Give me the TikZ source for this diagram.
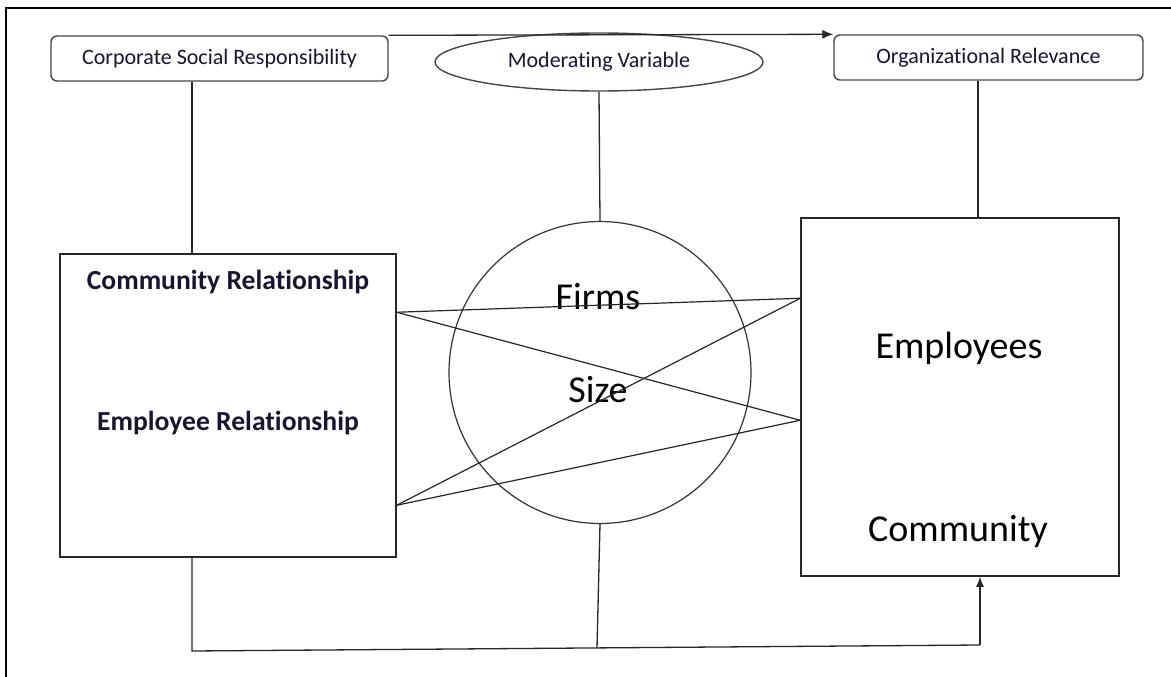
\documentclass[tikz,border=0pt]{standalone}
\usepackage{fontspec}
\setmainfont{Carlito}[RawFeature={-liga}]
\usetikzlibrary{shapes.geometric,arrows.meta,calc}
\definecolor{inkc}{RGB}{22,22,48}
\definecolor{edgec}{RGB}{70,70,70}
\begin{document}
\begin{tikzpicture}[x=1pt,y=-1pt,
  tag/.style={draw=edgec,line width=1.4pt,rounded corners=6pt,minimum height=45pt,
    inner sep=0pt,font=\fontsize{22}{24}\selectfont,text=inkc},
  oval/.style={ellipse,draw=edgec,line width=1.4pt,minimum width=328pt,minimum height=58pt,
    inner sep=0pt,font=\fontsize{22}{24}\selectfont,text=inkc},
  panel/.style={draw=black!85,line width=1.5pt,inner sep=0pt},
  ring/.style={circle,draw=black!80,line width=1.2pt,minimum size=302pt,inner sep=0pt},
  boldlabel/.style={font=\bfseries\fontsize{27.6}{30}\selectfont,text=inkc,inner sep=0pt},
  biglabel/.style={font=\fontsize{38}{40}\selectfont,text=black,inner sep=0pt},
  link/.style={draw=black!85,line width=1.3pt},
  tip/.style={-{Latex[length=11pt,width=9pt]}}]
\useasboundingbox (0,0) rectangle (1171,677);
\fill[white] (0,0) rectangle (1171,677);

% outer frame (top and left edges)
\draw[line width=2.6pt] (6,677) -- (6,8) -- (1171,8);

% top row
\node[tag,minimum width=337pt] (csr) at (219.5,58.5) {Corporate Social Responsibility};
\node[oval] (mod) at (599,62) {Moderating Variable};
\node[tag,minimum width=309pt] (org) at (988.5,57.5) {Organizational Relevance};

% main boxes and moderator circle
\node[panel,minimum width=336pt,minimum height=303pt] (lbox) at (228,405.5) {};
\node[ring] (circ) at (600,372.5) {};
\node[panel,minimum width=318pt,minimum height=358pt] (rbox) at (960,397) {};

% labels
\node[boldlabel] (cr) at (228,282) {Community Relationship};
\node[boldlabel] (er) at (228,423) {Employee Relationship};
\node[biglabel] (firms) at (598,297) {Firms};
\node[biglabel] (size) at (598,390) {Size};
\node[biglabel] (emp) at (959,348) {Employees};
\node[biglabel] (com) at (958,531) {Community};

% anchor points
\coordinate (spineL) at (192,0);
\coordinate (spineR) at (978,0);
\path (lbox.north east) ++(0,59) coordinate (L1);
\path (lbox.north east) ++(0,252) coordinate (L2);
\path (rbox.north west) ++(0,81) coordinate (R1);
\path (rbox.north west) ++(0,203) coordinate (R2);
\coordinate (B1) at (192,651);
\coordinate (BM) at (597,648);
\coordinate (B2) at (980,645);

% connectors
\draw[link,tip] (csr.north east) -- (org.north west);
\draw[link] (spineL |- csr.south) -- (spineL |- lbox.north);
\draw[link] (mod.south) -- (circ.north);
\draw[link] (spineR |- org.south) -- (spineR |- rbox.north);

\draw[link,line width=1.2pt] (L1) -- (R1);
\draw[link,line width=1.2pt] (L1) -- (R2);
\draw[link,line width=1.2pt] (L2) -- (R1);
\draw[link,line width=1.2pt] (L2) -- (R2);

\draw[link] (spineL |- lbox.south) -- (B1) -- (B2);
\draw[link] (circ.south) -- (BM);
\draw[link,-{Latex[length=10pt,width=8pt]}] (B2) -- (B2 |- rbox.south);
\end{tikzpicture}
\end{document}
